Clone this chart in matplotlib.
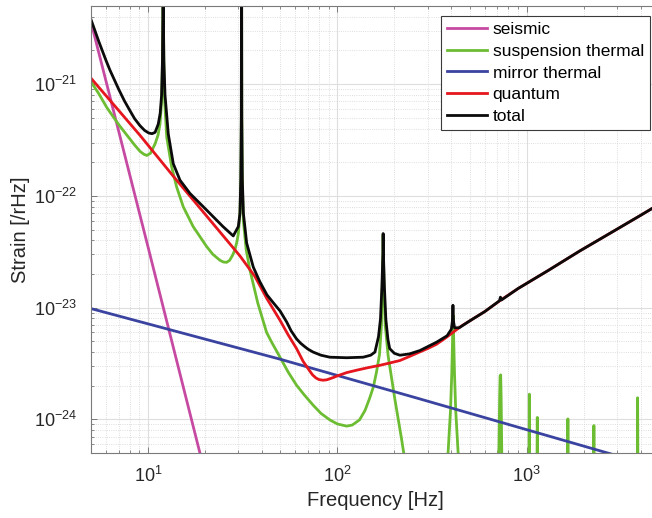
import matplotlib
matplotlib.use("Agg")
import matplotlib.pyplot as plt
from matplotlib.ticker import FixedLocator, LogLocator, NullFormatter, LogFormatterSciNotation

plt.rcParams['font.family'] = ['Liberation Sans', 'DejaVu Sans']
plt.rcParams['mathtext.fontset'] = 'custom'
plt.rcParams['mathtext.rm'] = 'Liberation Sans'
plt.rcParams['mathtext.it'] = 'Liberation Sans'
plt.rcParams['mathtext.bf'] = 'Liberation Sans'

# seismic
seis_f = [5, 10, 20]
seis_h = [3.6e-21, 3.5e-23, 3.3e-25]

# suspension thermal
susp_f = [5, 5.5, 6.05, 6.5, 7.0, 7.4, 8.0, 8.5, 9.08, 9.5, 9.85, 10.3, 10.9, 11.3, 11.57, 11.8, 11.92,
          11.98, 12.02, 12.06, 12.13, 12.25, 12.56, 13.34, 14.17, 15.35, 17.33, 20.4, 22, 24, 25, 26.0,
          27, 28, 28.8, 29.5, 30.0, 30.6, 30.95, 31.12, 31.2, 31.28, 31.45, 31.9, 33, 34.5, 38, 42.3,
          45, 49.8, 55, 60.9, 67, 74.5, 82, 91.2, 100, 112, 120, 131, 140, 148, 155, 161, 167,
          171, 172.6, 174.1, 174.6, 175.1, 176.6, 179, 185.5, 201, 218, 235, 260,
          350, 372, 385, 396, 402, 406, 409, 412, 416, 422, 434, 448, 470,
          690, 712, 720, 724, 729, 733, 740, 760,
          1020, 1029, 1033, 1037, 1125, 1134, 1138, 1142,
          1630, 1645, 1651, 1657, 2240, 2257, 2265, 2273,
          3820, 3842, 3855, 3868, 3890, 5000]
susp_h = [1.05e-21, 8.2e-22, 6.2e-22, 5.2e-22, 4.35e-22, 3.85e-22, 3.25e-22, 2.85e-22, 2.5e-22, 2.36e-22, 2.3e-22, 2.4e-22, 2.92e-22, 3.5e-22, 4.4e-22, 7e-22, 1.5e-21,
          4e-21, 3e-20, 4e-21, 1.5e-21, 7e-22, 3.34e-22, 1.81e-22, 1.2e-22, 8e-23, 5.3e-23, 3.52e-23, 3.0e-23, 2.65e-23, 2.56e-23, 2.54e-23,
          2.65e-23, 2.95e-23, 3.3e-23, 3.9e-23, 4.6e-23, 7e-23, 1.4e-22, 5e-22, 3e-20, 5e-22, 1.4e-22, 6e-23, 3.3e-23, 2.19e-23, 1.1e-23, 6.0e-24,
          4.9e-24, 3.6e-24, 2.65e-24, 2.02e-24, 1.65e-24, 1.34e-24, 1.13e-24, 9.9e-25, 9.1e-25, 8.7e-25, 8.9e-25, 9.9e-25, 1.2e-24, 1.54e-24, 1.95e-24, 2.65e-24, 3.8e-24,
          7e-24, 1.5e-23, 3e-23, 4.5e-23, 3e-23, 1.5e-23, 7e-24, 3.7e-24, 1.54e-24, 6.8e-25, 3e-25, 1e-25,
          1e-25, 3e-25, 5.2e-25, 1.2e-24, 2.5e-24, 5e-24, 8.5e-24, 5e-24, 2.5e-24, 1.2e-24, 5.2e-25, 3e-25, 1e-25,
          1e-25, 4e-25, 1.6e-24, 2.45e-24, 2.5e-24, 1.6e-24, 4e-25, 1e-25,
          1e-25, 4e-25, 1.68e-24, 4e-25, 1e-25, 4e-25, 1.04e-24, 4e-25,
          1e-25, 4e-25, 1.01e-24, 4e-25, 1e-25, 4e-25, 8.8e-25, 4e-25,
          1e-25, 4e-25, 1.56e-24, 4e-25, 1e-25, 1e-25]

# mirror thermal
mirr_f = [5, 50, 267, 2520, 5000]
mirr_h = [9.8e-24, 3.45e-24, 1.54e-24, 5.15e-25, 3.7e-25]

# quantum
quant_f = [5, 9.1, 13.6, 20.4, 30.6, 36.7, 42.5, 49.8, 55, 60.9, 66, 71.6, 74, 77, 80, 84, 88, 92, 96,
           100, 112, 126, 145, 167, 190, 214, 240, 267, 300, 334, 370, 408, 450, 500, 600, 720, 900,
           1300, 1900, 2800, 4000, 5000]
quant_h = [1.13e-21, 3.46e-22, 1.5e-22, 6.6e-23, 2.9e-23, 1.9e-23, 1.2e-23, 7.7e-24, 5.7e-24, 4.3e-24,
           3.3e-24, 2.7e-24, 2.5e-24, 2.35e-24, 2.27e-24, 2.24e-24, 2.26e-24, 2.32e-24, 2.38e-24,
           2.45e-24, 2.62e-24, 2.75e-24, 2.9e-24, 3.04e-24, 3.2e-24, 3.36e-24, 3.65e-24, 3.95e-24, 4.3e-24,
           4.7e-24, 5.3e-24, 6.0e-24, 6.8e-24, 7.6e-24, 9.2e-24, 1.15e-23, 1.48e-23, 2.15e-23, 3.2e-23,
           4.7e-23, 6.7e-23, 8.4e-23]

# total
tot_f = [5, 5.5, 6, 6.3, 7, 7.5, 8, 8.5, 9.08, 9.6, 10.1, 10.5, 10.9, 11.33, 11.6, 11.8, 11.92, 11.98,
         12.02, 12.06, 12.13, 12.3, 12.8, 13.6, 14.76, 16.67, 20.4, 24.9, 28.2, 30.0, 30.6, 30.9, 31.1,
         31.2, 31.3, 31.5, 31.9, 33.2, 36.0, 39, 42.5, 46, 49.8, 54.1, 57, 60.9, 64, 67, 70, 74.5, 82,
         91.2, 112, 137, 150, 158, 165, 169, 172, 174.1, 174.6, 175.1, 177.2, 180.4, 185, 189, 200, 214,
         240, 273, 334, 380, 400, 405, 408, 411, 416, 440, 500, 600, 718, 727, 736, 900, 1300, 1900,
         2800, 4000, 5000]
tot_h = [3.78e-21, 2.4e-21, 1.63e-21, 1.33e-21, 9.0e-22, 7.1e-22, 5.85e-22, 4.9e-22, 4.24e-22, 3.85e-22, 3.65e-22, 3.6e-22, 3.7e-22, 4.39e-22, 5.5e-22, 8e-22, 1.6e-21, 4e-21,
         3e-20, 4e-21, 1.6e-21, 8e-22, 3.58e-22, 1.94e-22, 1.38e-22, 1.05e-22, 7.46e-23, 5.31e-23, 4.38e-23, 5.31e-23, 7e-23, 1.4e-22, 5e-22,
         3e-20, 5e-22, 1.4e-22, 7e-23, 3.78e-23, 2.3e-23, 1.7e-23, 1.3e-23, 1.1e-23, 9.35e-24, 7.4e-24, 6.2e-24, 5.25e-24, 4.8e-24, 4.5e-24, 4.25e-24, 4.0e-24, 3.75e-24,
         3.6e-24, 3.56e-24, 3.6e-24, 3.75e-24, 4.0e-24, 5.5e-24, 7.9e-24, 1.55e-23, 3.1e-23, 4.6e-23, 3.1e-23, 1.55e-23, 7.9e-24, 5.2e-24, 4.3e-24, 3.9e-24, 3.75e-24,
         3.85e-24, 4.13e-24, 4.9e-24, 5.6e-24, 6.4e-24, 7.5e-24, 1.05e-23, 7.5e-24, 6.6e-24, 6.6e-24, 7.6e-24, 9.2e-24, 1.15e-23, 1.24e-23, 1.17e-23, 1.48e-23, 2.15e-23, 3.2e-23,
         4.7e-23, 6.7e-23, 8.4e-23]

labels = ['seismic', 'suspension thermal', 'mirror thermal', 'quantum', 'total']
colors = ['#c64aa2', '#6dbd33', '#3a43a0', '#e5161e', '#0b0b0b']

x_ticks = [10, 100, 1000]
y_ticks = [1e-24, 1e-23, 1e-22, 1e-21]

fig = plt.figure(figsize=(6.52, 5.18), dpi=100)
ax = fig.add_axes([91 / 652, 1 - 453 / 518, 568 / 652, 447 / 518])

series = [(seis_f, seis_h), (susp_f, susp_h), (mirr_f, mirr_h), (quant_f, quant_h), (tot_f, tot_h)]
for (f, h), lab, c in zip(series, labels, colors):
    ax.loglog(f, h, color=c, lw=2.0, label=lab)

ax.set_xlim(5, 5000)
ax.set_ylim(5e-25, 5e-21)

ax.xaxis.set_major_locator(FixedLocator(x_ticks))
ax.yaxis.set_major_locator(FixedLocator(y_ticks))
ax.xaxis.set_major_formatter(LogFormatterSciNotation())
ax.yaxis.set_major_formatter(LogFormatterSciNotation())
ax.xaxis.set_minor_locator(LogLocator(base=10, subs=range(2, 10), numticks=50))
ax.yaxis.set_minor_locator(LogLocator(base=10, subs=range(2, 10), numticks=50))
ax.xaxis.set_minor_formatter(NullFormatter())
ax.yaxis.set_minor_formatter(NullFormatter())

ax.grid(True, which='major', color='#dedede', lw=0.8, ls='-')
ax.grid(True, which='minor', color='#d4d4d4', lw=0.6, ls=':')
ax.set_axisbelow(True)

ax.tick_params(which='both', direction='in', top=True, right=True, colors='#7a7a7a',
               labelcolor='#262626', labelsize=13)
ax.tick_params(which='major', length=4.5, width=0.7)
ax.tick_params(which='minor', length=2.5, width=0.6)
ax.tick_params(axis='x', pad=9)
ax.tick_params(axis='y', pad=10)
for s in ax.spines.values():
    s.set_color('#7a7a7a')
    s.set_linewidth(0.8)

ax.set_xlabel('Frequency [Hz]', fontsize=14.5, color='#262626')
ax.set_ylabel('Strain [/rHz]', fontsize=14.5, color='#262626')
ax.xaxis.set_label_coords(0.5, -0.085)
ax.yaxis.set_label_coords(-0.107, 0.5)

leg = ax.legend(loc='upper right', bbox_to_anchor=(0.984, 0.978), borderaxespad=0,
                fontsize=12.5, fancybox=False, framealpha=1, edgecolor='#3a3a3a',
                handlelength=2.3, handletextpad=0.3, labelspacing=0.38, borderpad=0.35)
leg.get_frame().set_linewidth(0.8)

fig.savefig('out.png', dpi=100)
